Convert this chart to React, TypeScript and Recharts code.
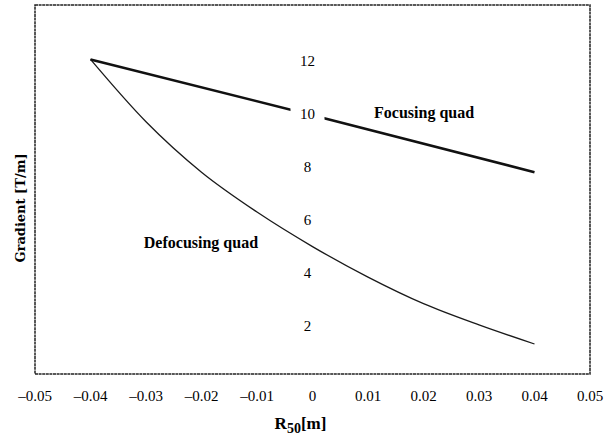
import React from "react";
import { LineChart, Line, XAxis, YAxis, ReferenceArea, ReferenceDot } from "recharts";

const xTicks = [-0.05, -0.04, -0.03, -0.02, -0.01, 0, 0.01, 0.02, 0.03, 0.04, 0.05];
const yTicks = [2, 4, 6, 8, 10, 12];

const focusX = [-0.04, 0, 0.04];
const focusG = [12.05, 9.95, 7.8];

const defocusX = [-0.04, -0.03, -0.02, -0.01, 0, 0.01, 0.02, 0.03, 0.04];
const defocusG = [12.05, 9.7, 7.8, 6.3, 5.0, 3.85, 2.85, 2.05, 1.33];

const focusData = focusX.map((x, i) => ({ x, g: focusG[i] }));
const defocusData = defocusX.map((x, i) => ({ x, g: defocusG[i] }));

const SERIF = "'Liberation Serif', 'Times New Roman', serif";

const fmtX = (v: number) => {
  if (Math.abs(v) < 1e-9) return "0";
  const s = Math.abs(v).toFixed(2);
  return v < 0 ? "\u2013" + s : s;
};

const YTickLabel = (props: any) => {
  const { viewBox, value } = props;
  const cx = viewBox.x - 5;
  const cy = viewBox.y;
  return (
    <g>
      <rect x={cx - 17} y={cy - 14} width={34} height={24} fill="#fff" />
      <text x={cx} y={cy} dy="0.35em" textAnchor="middle" fontFamily={SERIF} fontSize={15} fill="#000">
        {value}
      </text>
    </g>
  );
};

const Annot = (props: any) => {
  const { viewBox, value } = props;
  return (
    <text x={viewBox.x} y={viewBox.y} dy="0.35em" textAnchor="middle" fontFamily={SERIF} fontWeight="bold" fontSize={16} fill="#000">
      {value}
    </text>
  );
};

const XTitle = (props: any) => {
  const { viewBox } = props;
  const x = viewBox.x + viewBox.width / 2 - 12;
  const y = viewBox.y + 55;
  return (
    <text x={x} y={y} textAnchor="middle" fontFamily={SERIF} fontWeight="bold" fontSize={17} fill="#000">
      R<tspan fontSize={14} dy={4}>50</tspan>
      <tspan dy={-4}>[m]</tspan>
    </text>
  );
};

const YTitle = (props: any) => {
  const { viewBox } = props;
  const x = viewBox.x + 20;
  const y = viewBox.y + 203;
  return (
    <text
      x={x}
      y={y}
      dy="0.35em"
      textAnchor="middle"
      transform={`rotate(-90, ${x}, ${y})`}
      fontFamily="'DejaVu Serif', serif"
      fontWeight="bold"
      fontSize={13}
      fill="#000"
    >
      Gradient [T/m]
    </text>
  );
};

export default function App() {
  return (
    <div style={{ position: "absolute", left: 0, top: 0, background: "#fff" }}>
      <LineChart width={608} height={438} margin={{ top: 5, right: 18, bottom: 4, left: 0 }}>
        <XAxis
          dataKey="x"
          type="number"
          domain={[-0.05, 0.05]}
          ticks={xTicks}
          tickFormatter={fmtX}
          tickLine={false}
          axisLine={false}
          tickMargin={10}
          height={60}
          allowDataOverflow
          tick={{ fontFamily: SERIF, fontSize: 15, fill: "#000" }}
          label={{ content: XTitle }}
        />
        <YAxis
          type="number"
          domain={[0.2, 14.1]}
          allowDataOverflow
          width={35}
          tick={false}
          tickLine={false}
          axisLine={false}
          label={{ content: YTitle }}
        />
        <ReferenceArea
          x1={-0.05}
          x2={0.05}
          y1={0.2}
          y2={14.1}
          fill="none"
          stroke="#222"
          strokeWidth={1.5}
          strokeDasharray="3 0.6"
          ifOverflow="visible"
        />
        <Line
          data={defocusData}
          dataKey="g"
          type="monotone"
          stroke="#1a1a1a"
          strokeWidth={1.3}
          dot={false}
          isAnimationActive={false}
        />
        <Line
          data={focusData}
          dataKey="g"
          type="linear"
          stroke="#111"
          strokeWidth={2.6}
          dot={false}
          isAnimationActive={false}
        />
        {yTicks.map((v) => (
          <ReferenceDot key={v} x={0} y={v} r={0} fill="none" stroke="none" ifOverflow="visible" label={{ value: v, content: YTickLabel }} />
        ))}
        <ReferenceDot x={0.0201} y={10.07} r={0} fill="none" stroke="none" label={{ value: "Focusing quad", content: Annot }} />
        <ReferenceDot x={-0.0201} y={5.17} r={0} fill="none" stroke="none" label={{ value: "Defocusing quad", content: Annot }} />
      </LineChart>
    </div>
  );
}
